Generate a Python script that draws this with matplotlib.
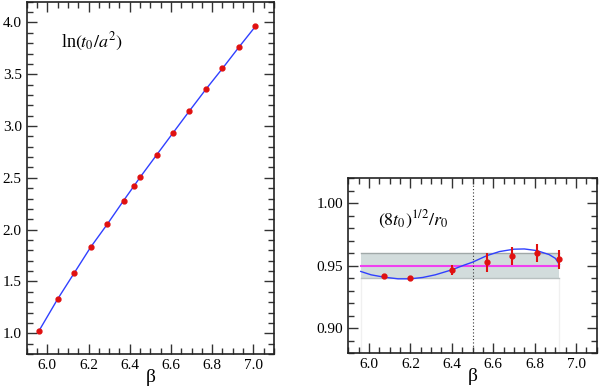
import numpy as np
import matplotlib
matplotlib.use("Agg")
import matplotlib.pyplot as plt
from matplotlib.ticker import MultipleLocator, FormatStrFormatter

plt.rcParams["font.family"] = ["Liberation Serif", "DejaVu Serif"]
plt.rcParams["mathtext.fontset"] = "stix"

# left panel: ln(t0/a^2) vs beta
beta_l = [5.96, 6.05, 6.13, 6.21, 6.29, 6.37, 6.42, 6.45, 6.53, 6.61, 6.69, 6.77, 6.85, 6.93, 7.01]
lnt0 = [1.025, 1.33, 1.58, 1.83, 2.05, 2.28, 2.42, 2.505, 2.72, 2.934, 3.147, 3.356, 3.556, 3.762, 3.962]
lnt0_err = [0.01] * len(beta_l)

# right panel: (8 t0)^(1/2) / r0
beta_r = [6.07, 6.20, 6.40, 6.57, 6.69, 6.81, 6.92]
ratio = [0.9415, 0.9401, 0.9466, 0.9529, 0.9577, 0.9605, 0.9552]
ratio_err = [0.0015, 0.0015, 0.0040, 0.0077, 0.0073, 0.0072, 0.0074]

# fit curve
curve_beta = [5.96, 6.01, 6.07, 6.14, 6.20, 6.26, 6.32, 6.40, 6.46, 6.50, 6.57, 6.63, 6.70, 6.75, 6.81, 6.87, 6.90, 6.92]
curve_val = [0.9455, 0.9428, 0.9410, 0.9396, 0.9396, 0.9407, 0.9428, 0.9468, 0.9506, 0.9529, 0.9582, 0.9614, 0.9633, 0.9635, 0.9622, 0.9590, 0.9560, 0.9510]

band_lo, band_mid, band_hi = 0.940, 0.950, 0.960
band_x = [5.96, 6.92]
beta_star = 6.5

red = "#e01010"
blue = "#3040ff"


def style_axes(ax, xmaj, xmin, ymaj, ymin):
	ax.xaxis.set_major_locator(MultipleLocator(xmaj))
	ax.xaxis.set_minor_locator(MultipleLocator(xmin))
	ax.yaxis.set_major_locator(MultipleLocator(ymaj))
	ax.yaxis.set_minor_locator(MultipleLocator(ymin))
	ax.tick_params(which="both", direction="in", top=True, right=True, labelsize=11, color="#333333")
	ax.tick_params(which="major", length=7, width=1)
	ax.tick_params(which="minor", length=4, width=1)
	for s in ax.spines.values():
		s.set_linewidth(1.2)
		s.set_color("#222222")
	ax.set_xlabel("β", fontsize=14, labelpad=-2)


fig = plt.figure(figsize=(5.99, 3.89), dpi=100)

ax1 = fig.add_axes([0.0446, 0.09, 0.4128, 0.9056])
ax1.plot(beta_l, lnt0, color=blue, lw=1.0, zorder=2)
ax1.errorbar(beta_l, lnt0, yerr=lnt0_err, fmt="o", color=red, ms=3.5, elinewidth=1.2, capsize=0, zorder=3)
ax1.set_xlim(5.9, 7.1)
ax1.set_ylim(0.8, 4.2)
style_axes(ax1, 0.2, 0.05, 0.5, 0.1)
ax1.yaxis.set_major_formatter(FormatStrFormatter("%.1f"))
ax1.text(0.14, 0.87, r"ln$(t_0/a^2)$", transform=ax1.transAxes, fontsize=13)

ax2 = fig.add_axes([0.5815, 0.0917, 0.4147, 0.4499])
ax2.fill_between(band_x, band_lo, band_hi, color="#d2dcdc", lw=0, zorder=1)
ax2.plot(band_x, [band_hi, band_hi], color="#a0a8a8", lw=1.0, zorder=1)
ax2.plot(band_x, [band_lo, band_lo], color="#b8c0c0", lw=1.0, zorder=1)
ax2.vlines(band_x, 0.88, band_lo, color="#f0f0f0", lw=1.0, zorder=0)
ax2.plot(band_x, [band_mid, band_mid], color="#f040f0", lw=1.5, zorder=2)
ax2.axvline(beta_star, color="#333333", lw=0.8, ls=(0, (1, 2)), zorder=2)
ax2.plot(curve_beta, curve_val, color=blue, lw=1.0, zorder=3)
ax2.errorbar(beta_r, ratio, yerr=ratio_err, fmt="o", color=red, ms=3.5, elinewidth=1.5, capsize=0, zorder=4)
ax2.set_xlim(5.9, 7.1)
ax2.set_ylim(0.88, 1.02)
style_axes(ax2, 0.2, 0.05, 0.05, 0.01)
ax2.yaxis.set_major_formatter(FormatStrFormatter("%.2f"))
ax2.text(0.12, 0.73, r"$(8t_0)^{1/2}/r_0$", transform=ax2.transAxes, fontsize=13)

fig.savefig("out.png", dpi=100)
